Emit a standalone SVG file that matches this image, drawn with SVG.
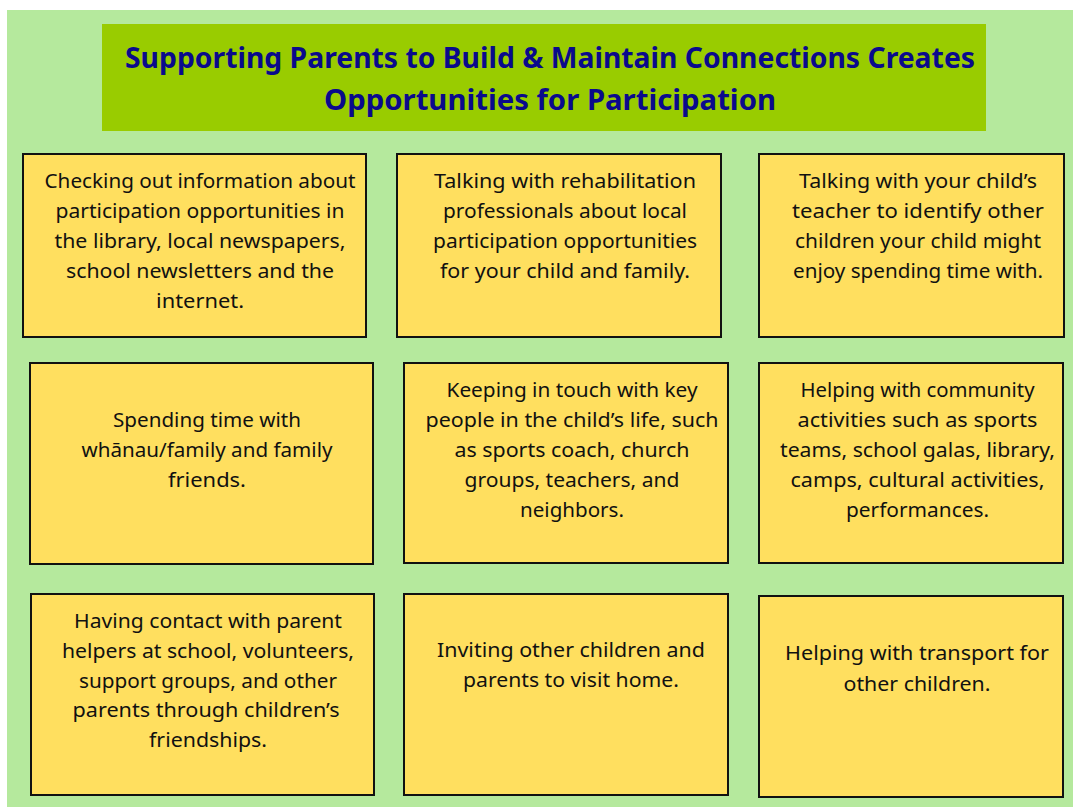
<svg xmlns="http://www.w3.org/2000/svg" width="1073" height="807" viewBox="0 0 1073 807">
<style>
.bg{fill:#b5e99d}
.title-box{fill:#99cc00}
.title{font-family:"Noto Sans","DejaVu Sans",sans-serif;font-weight:bold;font-size:28px;fill:#0a0a8c;text-anchor:middle}
.box{fill:#ffdf5f;stroke:#111;stroke-width:2}
.t{font-family:"Noto Sans","DejaVu Sans",sans-serif;font-size:20px;fill:#111;text-anchor:middle}
</style>
<rect width="1073" height="807" fill="#ffffff"/>
<rect class="bg" x="7" y="10" width="1066" height="797"/>
<g id="title">
<rect class="title-box" x="102" y="24" width="884" height="107"/>
<text class="title" x="550" y="68" textLength="850" lengthAdjust="spacingAndGlyphs">Supporting Parents to Build &amp; Maintain Connections Creates</text>
<text class="title" x="550" y="110" textLength="452" lengthAdjust="spacingAndGlyphs">Opportunities for Participation</text>
</g>
<g id="node1">
<rect class="box" x="23" y="154" width="343" height="183"/>
<text class="t" x="200" y="188" textLength="311" lengthAdjust="spacingAndGlyphs">Checking out information about</text>
<text class="t" x="200" y="218" textLength="289" lengthAdjust="spacingAndGlyphs">participation opportunities in</text>
<text class="t" x="200" y="248" textLength="291" lengthAdjust="spacingAndGlyphs">the library, local newspapers,</text>
<text class="t" x="200" y="278" textLength="268" lengthAdjust="spacingAndGlyphs">school newsletters and the</text>
<text class="t" x="200" y="308" textLength="88" lengthAdjust="spacingAndGlyphs">internet.</text>
</g>
<g id="node2">
<rect class="box" x="397" y="154" width="324" height="183"/>
<text class="t" x="565" y="188" textLength="262" lengthAdjust="spacingAndGlyphs">Talking with rehabilitation</text>
<text class="t" x="565" y="218" textLength="244" lengthAdjust="spacingAndGlyphs">professionals about local</text>
<text class="t" x="565" y="248" textLength="264" lengthAdjust="spacingAndGlyphs">participation opportunities</text>
<text class="t" x="565" y="278" textLength="250" lengthAdjust="spacingAndGlyphs">for your child and family.</text>
</g>
<g id="node3">
<rect class="box" x="759" y="154" width="305" height="183"/>
<text class="t" x="918" y="188" textLength="238" lengthAdjust="spacingAndGlyphs">Talking with your child’s</text>
<text class="t" x="918" y="218" textLength="252" lengthAdjust="spacingAndGlyphs">teacher to identify other</text>
<text class="t" x="918" y="248" textLength="246" lengthAdjust="spacingAndGlyphs">children your child might</text>
<text class="t" x="918" y="278" textLength="250" lengthAdjust="spacingAndGlyphs">enjoy spending time with.</text>
</g>
<g id="node4">
<rect class="box" x="30" y="363" width="343" height="201"/>
<text class="t" x="207" y="427" textLength="188" lengthAdjust="spacingAndGlyphs">Spending time with</text>
<text class="t" x="207" y="457" textLength="251" lengthAdjust="spacingAndGlyphs">whānau/family and family</text>
<text class="t" x="207" y="487" textLength="78" lengthAdjust="spacingAndGlyphs">friends.</text>
</g>
<g id="node5">
<rect class="box" x="404" y="363" width="324" height="200"/>
<text class="t" x="572" y="397" textLength="251" lengthAdjust="spacingAndGlyphs">Keeping in touch with key</text>
<text class="t" x="572" y="427" textLength="293" lengthAdjust="spacingAndGlyphs">people in the child’s life, such</text>
<text class="t" x="572" y="457" textLength="235" lengthAdjust="spacingAndGlyphs">as sports coach, church</text>
<text class="t" x="572" y="487" textLength="215" lengthAdjust="spacingAndGlyphs">groups, teachers, and</text>
<text class="t" x="572" y="517" textLength="104" lengthAdjust="spacingAndGlyphs">neighbors.</text>
</g>
<g id="node6">
<rect class="box" x="759" y="363" width="304" height="200"/>
<text class="t" x="917.5" y="397" textLength="234" lengthAdjust="spacingAndGlyphs">Helping with community</text>
<text class="t" x="917.5" y="427" textLength="240" lengthAdjust="spacingAndGlyphs">activities such as sports</text>
<text class="t" x="917.5" y="457" textLength="275" lengthAdjust="spacingAndGlyphs">teams, school galas, library,</text>
<text class="t" x="917.5" y="487" textLength="254" lengthAdjust="spacingAndGlyphs">camps, cultural activities,</text>
<text class="t" x="917.5" y="517" textLength="143" lengthAdjust="spacingAndGlyphs">performances.</text>
</g>
<g id="node7">
<rect class="box" x="31" y="594" width="343" height="201"/>
<text class="t" x="208" y="628" textLength="268" lengthAdjust="spacingAndGlyphs">Having contact with parent</text>
<text class="t" x="208" y="658" textLength="292" lengthAdjust="spacingAndGlyphs">helpers at school, volunteers,</text>
<text class="t" x="208" y="688" textLength="258" lengthAdjust="spacingAndGlyphs">support groups, and other</text>
<text class="t" x="206" y="717" textLength="267" lengthAdjust="spacingAndGlyphs">parents through children’s</text>
<text class="t" x="208" y="747" textLength="118" lengthAdjust="spacingAndGlyphs">friendships.</text>
</g>
<g id="node8">
<rect class="box" x="404" y="594" width="324" height="201"/>
<text class="t" x="571" y="657" textLength="268" lengthAdjust="spacingAndGlyphs">Inviting other children and</text>
<text class="t" x="571" y="687" textLength="216" lengthAdjust="spacingAndGlyphs">parents to visit home.</text>
</g>
<g id="node9">
<rect class="box" x="759" y="596" width="304" height="201"/>
<text class="t" x="917" y="660" textLength="264" lengthAdjust="spacingAndGlyphs">Helping with transport for</text>
<text class="t" x="917" y="691" textLength="147" lengthAdjust="spacingAndGlyphs">other children.</text>
</g>
<g id="connectors"></g>
</svg>
